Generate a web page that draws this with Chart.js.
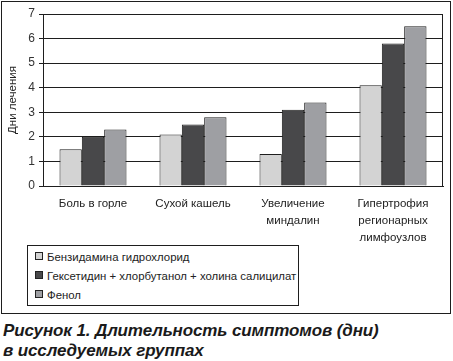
<!DOCTYPE html>
<html><head><meta charset="utf-8">
<script src="https://cdn.jsdelivr.net/npm/chart.js@4/dist/chart.umd.min.js"></script>
<style>
html,body{margin:0;padding:0;background:#fff;}
#wrap{position:relative;width:453px;height:361px;overflow:hidden;background:#fff;font-family:"Liberation Sans",Arial,sans-serif;}
#frame{position:absolute;left:1px;top:1px;width:448px;height:311px;border:1px solid #1e1e1e;}
#cv{position:absolute;left:0;top:0;}
#legend{position:absolute;left:27px;top:245px;width:270px;height:59px;border:1px solid #1e1e1e;box-sizing:content-box;color:#222;font-size:11.4px;}
#legend .it{position:absolute;left:7px;height:19px;line-height:19px;white-space:nowrap;}
#legend .sw{display:inline-block;width:6px;height:6px;border:1px solid #222;margin-right:4px;vertical-align:1px;}
#caption{position:absolute;left:3px;top:321px;font-weight:bold;font-style:italic;font-size:17px;line-height:20px;color:#1a1a1a;white-space:nowrap;letter-spacing:-0.12px;}
</style></head>
<body><div id="wrap">
<div id="frame"></div>
<canvas id="cv" width="453" height="244"></canvas>
<div id="legend"></div>
<div id="caption">Рисунок 1. Длительность симптомов (дни)<br>в исследуемых группах</div>
</div>
<script>
const categories = [
  ["Боль в горле"],
  ["Сухой кашель"],
  ["Увеличение", "миндалин"],
  ["Гипертрофия", "регионарных", "лимфоузлов"]
];
const seriesNames = [
  "Бензидамина гидрохлорид",
  "Гексетидин + хлорбутанол + холина салицилат",
  "Фенол"
];
const benzydamine = [1.5, 2.1, 1.3, 4.1];
const hexetidine = [2.0, 2.5, 3.1, 5.8];
const phenol = [2.3, 2.8, 3.4, 6.5];
const yTicks = [0, 1, 2, 3, 4, 5, 6, 7];
const yTitle = "Дни лечения";
const colors = ["#d3d3d3", "#48484a", "#9e9fa3"];

// grid lines at the y ticks + frame around the plot area, drawn behind the bars
const plotGrid = {
  id: 'plotGrid',
  beforeDatasetsDraw(chart) {
    const a = chart.chartArea, c = chart.ctx, ys = chart.scales.y;
    const L = Math.round(a.left), R = Math.round(a.right), T = Math.round(a.top), B = Math.round(a.bottom);
    c.save();
    c.fillStyle = '#1e1e1e';
    ys.ticks.forEach(t => {
      const py = Math.round(ys.getPixelForValue(t.value) - 0.5);
      c.fillRect(L, py, R - L, 1);
    });
    c.fillRect(R - 1, T, 1, B - T);
    c.fillRect(L, T, R - L, 1);
    c.restore();
  }
};

const chart = new Chart(document.getElementById('cv'), {
  type: 'bar',
  data: {
    labels: categories,
    datasets: [benzydamine, hexetidine, phenol].map((d, i) => ({
      label: seriesNames[i], data: d, backgroundColor: colors[i],
      borderColor: '#1e1e1e', borderWidth: 1,
      categoryPercentage: 0.67, barPercentage: 1.0
    }))
  },
  options: {
    responsive: false, animation: false, devicePixelRatio: 1,
    layout: { padding: { left: 0, right: 10, top: 14, bottom: 0 } },
    plugins: { legend: { display: false }, tooltip: { enabled: false } },
    scales: {
      x: {
        grid: { display: false, drawTicks: false, tickLength: 0 },
        border: { display: true, color: '#1e1e1e' },
        ticks: { color: '#222', font: { family: 'Liberation Sans', size: 11.5, lineHeight: 1.5 }, padding: 9, maxRotation: 0, autoSkip: false },
        afterFit(s) { s.height = 58; }
      },
      y: {
        min: yTicks[0], max: yTicks[yTicks.length - 1],
        ticks: { stepSize: 1, color: '#333', font: { family: 'Liberation Sans', size: 12 }, padding: 4 },
        grid: { display: true, drawOnChartArea: true, color: '#1e1e1e', lineWidth: 1, tickLength: 4, drawTicks: true },
        border: { display: true, color: '#1e1e1e' },
        title: { display: true, text: yTitle, color: '#222', font: { family: 'Liberation Sans', size: 11.5 }, padding: { top: 6, bottom: 0 } },
        afterFit(s) { s.width = 43; }
      }
    }
  },
  plugins: [plotGrid]
});

const lg = document.getElementById('legend');
chart.data.datasets.forEach((ds, i) => {
  const it = document.createElement('div');
  it.className = 'it';
  it.style.top = (2 + i * 19) + 'px';
  const sw = document.createElement('span');
  sw.className = 'sw'; sw.style.background = ds.backgroundColor;
  it.appendChild(sw);
  it.appendChild(document.createTextNode(ds.label));
  lg.appendChild(it);
});
</script>
</body></html>
